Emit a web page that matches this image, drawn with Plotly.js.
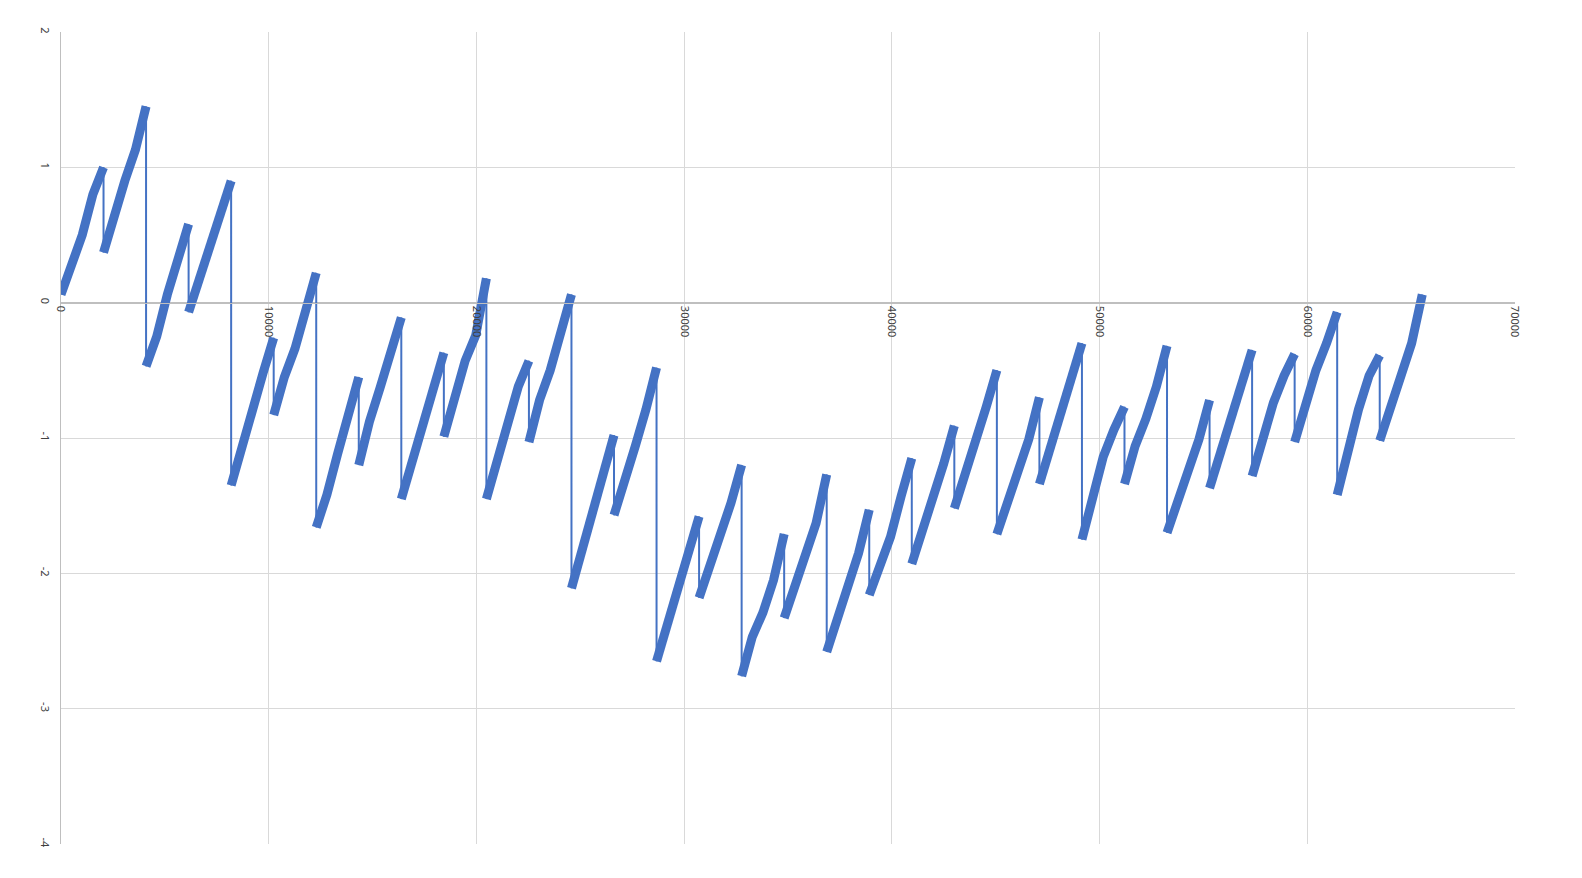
<!DOCTYPE html>
<html>
<head>
<meta charset="utf-8">
<script src="https://cdn.plot.ly/plotly-3.0.1.min.js"></script>
<style>
  html, body { margin: 0; padding: 0; background: #ffffff; }
  #chart { width: 1582px; height: 878px; }
</style>
</head>
<body>
<div id="chart"></div>
<script>
// Sample index where each rising segment starts, and offsets of the read samples inside a segment
const segmentLength = 2048;
const sampleOffsets = [0, 512, 1024, 1536, 2047];

// Values (centre of the band) for each of the 32 segments
const segStart = [0.06, 0.37, -0.47, -0.07, -1.35, -0.83, -1.66, -1.20, -1.45, -0.99, -1.45, -1.03, -2.11, -1.57, -2.65, -2.18,
                  -2.76, -2.33, -2.58, -2.16, -1.93, -1.52, -1.71, -1.34, -1.75, -1.34, -1.70, -1.37, -1.28, -1.03, -1.42, -1.02];
const seg512   = [0.29, 0.66, -0.25, 0.17, -1.06, -0.55, -1.42, -0.88, -1.17, -0.68, -1.17, -0.72, -1.83, -1.33, -2.37, -1.95,
                  -2.47, -2.10, -2.34, -1.92, -1.70, -1.28, -1.46, -1.09, -1.43, -1.06, -1.46, -1.11, -0.99, -0.74, -1.08, -0.77];
const seg1024  = [0.50, 0.90, 0.06, 0.45, -0.82, -0.34, -1.12, -0.63, -0.93, -0.43, -0.90, -0.50, -1.58, -1.06, -2.12, -1.73,
                  -2.29, -1.90, -2.12, -1.73, -1.46, -1.04, -1.26, -0.79, -1.14, -0.86, -1.26, -0.86, -0.74, -0.50, -0.79, -0.54];
const seg1536  = [0.80, 1.13, 0.35, 0.65, -0.52, -0.04, -0.85, -0.38, -0.66, -0.24, -0.62, -0.22, -1.28, -0.79, -1.85, -1.48,
                  -2.05, -1.63, -1.85, -1.43, -1.19, -0.77, -1.01, -0.54, -0.94, -0.62, -1.01, -0.59, -0.54, -0.30, -0.54, -0.30];
const segEnd   = [1.00, 1.45, 0.58, 0.90, -0.26, 0.22, -0.55, -0.11, -0.37, 0.18, -0.43, 0.06, -0.98, -0.48, -1.58, -1.20,
                  -1.71, -1.27, -1.53, -1.15, -0.91, -0.50, -0.70, -0.30, -0.77, -0.32, -0.72, -0.35, -0.38, -0.07, -0.39, 0.06];

// Axis ticks
const xTicks = [0, 10000, 20000, 30000, 40000, 50000, 60000, 70000];
const yTicks = [-4, -3, -2, -1, 0, 1, 2];

// Build traces from the arrays
const cols = [segStart, seg512, seg1024, seg1536, segEnd];
const xAll = [], yAll = [], xBand = [], yBand = [];
for (let k = 0; k < segStart.length; k++) {
  for (let j = 0; j < sampleOffsets.length; j++) {
    const x = k * segmentLength + sampleOffsets[j];
    const y = cols[j][k];
    xAll.push(x); yAll.push(y);
    xBand.push(x); yBand.push(y);
  }
  xBand.push(null); yBand.push(null);
}

const blue = '#4472C4';
const traces = [
  { x: xAll, y: yAll, type: 'scatter', mode: 'lines',
    line: { color: blue, width: 2 }, hoverinfo: 'skip', showlegend: false },
  { x: xBand, y: yBand, type: 'scatter', mode: 'lines', connectgaps: false,
    line: { color: blue, width: 9 }, hoverinfo: 'skip', showlegend: false }
];

const tickFont = { family: 'Noto Sans, Liberation Sans, sans-serif', size: 11, color: '#404040' };
const layout = {
  width: 1582, height: 878,
  margin: { l: 61, r: 67, t: 32, b: 34, pad: 0 },
  paper_bgcolor: '#ffffff', plot_bgcolor: '#ffffff',
  showlegend: false,
  xaxis: {
    range: [0, 70000], tickvals: xTicks, ticktext: xTicks.map(String),
    tickangle: 90, tickfont: tickFont,
    showgrid: true, gridcolor: '#d9d9d9', gridwidth: 1,
    zeroline: false, showline: true, linecolor: '#bfbfbf', linewidth: 1,
    ticks: '', anchor: 'free', position: 4 / 6, fixedrange: true
  },
  yaxis: {
    range: [-4, 2], tickvals: yTicks, ticktext: yTicks.map(String),
    tickangle: 90, tickfont: tickFont,
    showgrid: true, gridcolor: '#d9d9d9', gridwidth: 1,
    zeroline: true, zerolinecolor: '#bfbfbf', zerolinewidth: 1,
    showline: true, linecolor: '#bfbfbf', linewidth: 1,
    ticks: '', ticklabelstandoff: 6, fixedrange: true
  }
};

Plotly.newPlot('chart', traces, layout, { displayModeBar: false, staticPlot: true });
</script>
</body>
</html>
